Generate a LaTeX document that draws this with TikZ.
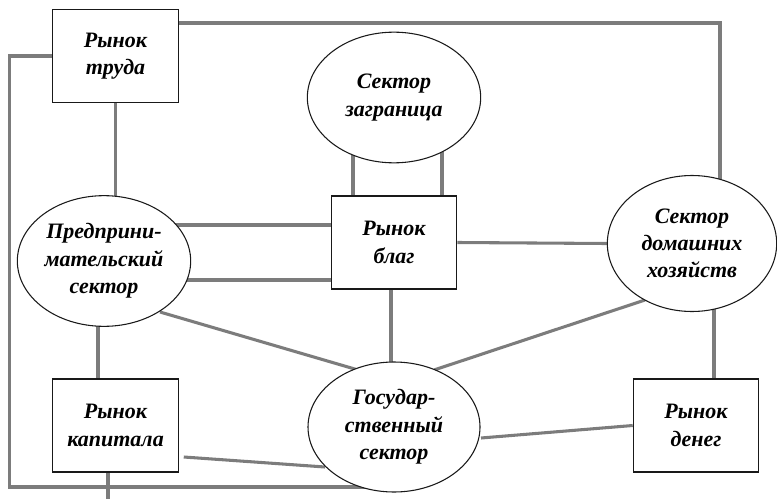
\documentclass[tikz,border=0pt]{standalone}
\usepackage{fontspec}
\setmainfont{Liberation Serif}
\usetikzlibrary{shapes.geometric}
\definecolor{linkgray}{HTML}{7C7C7C}
\pgfdeclarelayer{background}
\pgfsetlayers{background,main}
\tikzset{
  label/.style={font=\fontsize{16.5}{20.5}\selectfont\bfseries\itshape, align=center},
  market/.style={label, draw=black!90, line width=0.9pt, fill=white, rectangle, inner sep=0pt,
    minimum width=94pt, minimum height=69.75pt},
  sector/.style={label, draw=black!90, line width=0.8pt, fill=white, ellipse, inner sep=0pt,
    minimum width=130pt, minimum height=98pt},
  link/.style={draw=linkgray, line width=2.3pt}
}

\begin{document}
\begin{tikzpicture}[x=0.75pt, y=-0.75pt]
\useasboundingbox (0,0) rectangle (777,499);

% markets
\node[market] (trud) at (115.5, 56)  {Рынок\\труда};
\node[market] (blag) at (394, 242.5) {Рынок\\благ};
\node[market] (kap)  at (115.5,425.5) {Рынок\\капитала};
\node[market] (den)  at (696, 425.5) {Рынок\\денег};

% sectors
\node[sector] (zagr) at (394, 97.5) {Сектор\\заграница};
\node[sector] (ps)   at (104, 261)  {Предприни-\\мательский\\сектор};
\node[sector, minimum width=127pt, minimum height=102pt] (dom) at (692, 243.5) {Сектор\\домашних\\хозяйств};
\node[sector, minimum width=129pt, minimum height=97.5pt] (gos) at (394, 427) {Государ-\\ственный\\сектор};

\coordinate (kapout) at (108, 499);

\begin{pgfonlayer}{background}
\draw[link] ([shift={(0,-33)}]trud.east) -| ([shift={(28,0)}]dom.center);
\draw[link] (trud.west) -- ++(-43,0) |- ([shift={(0,60)}]gos.center);
\draw[link] (trud.south) -- (trud.south |- ps.center);

\draw[link] ([shift={(-41,0)}]zagr.center) -- ([shift={(-41,0)}]blag.center);
\draw[link] ([shift={(48,0)}]zagr.center) -- ([shift={(48,0)}]blag.center);

\draw[link] ([shift={(0,-36)}]ps.center) -- ([shift={(0,-17.5)}]blag.center);
\draw[link] ([shift={(0,19)}]ps.center) -- ([shift={(0,37.5)}]blag.center);
\draw[link] (blag.east) -- (dom.west);

\draw[link] ([shift={(-6,0)}]ps.center) -- ([shift={(-17.5,0)}]kap.center);
\draw[link] ([shift={(56,51)}]ps.center) -- ([shift={(-29,-55)}]gos.center);
\draw[link] ([shift={(-3,0)}]blag.center) -- ([shift={(-3,0)}]gos.center);
\draw[link] ([shift={(40,-57)}]gos.center) -- ([shift={(-47,56.5)}]dom.center);
\draw[link] ([shift={(22,0)}]dom.center) -- ([shift={(18,0)}]den.center);
\draw[link] ([shift={(87,11)}]gos.center) -- (den.west);
\draw[link] ([shift={(5,31.5)}]kap.east) -- ([shift={(-69,40)}]gos.center);
\draw[link] ([shift={(-7.5,0)}]kap.south) -- (kapout);
\end{pgfonlayer}
\end{tikzpicture}
\end{document}
